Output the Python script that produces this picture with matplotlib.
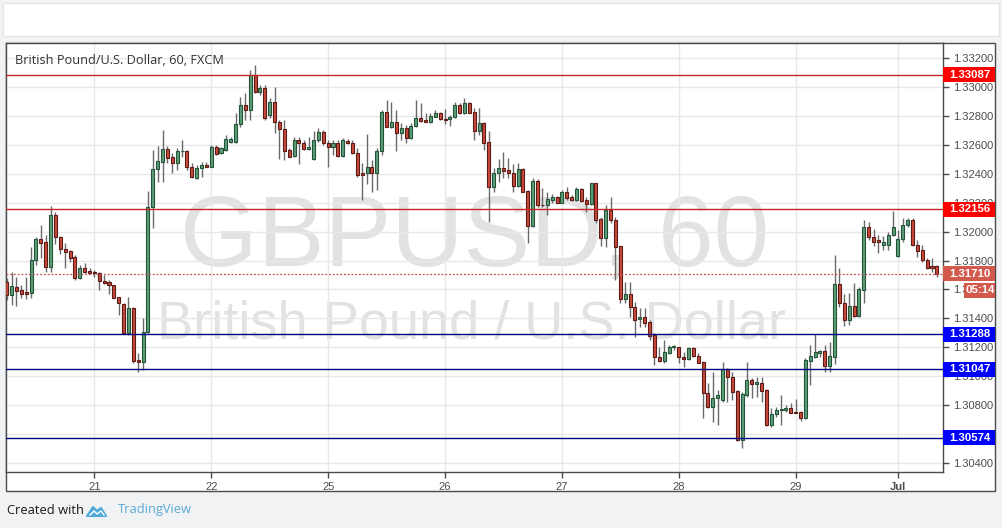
import numpy as np
import matplotlib
matplotlib.use("Agg")
import matplotlib.pyplot as plt
import matplotlib.transforms as mtransforms
from matplotlib.patches import Rectangle, Polygon

# hourly GBPUSD candles
opens = [1.31653, 1.31561, 1.31619, 1.31596, 1.31584, 1.31577, 1.31803, 1.31947, 1.31926, 1.31753,
         1.32115, 1.31965, 1.31880, 1.31866, 1.31822, 1.31681, 1.31746, 1.31727, 1.31722, 1.31711,
         1.31660, 1.31649, 1.31630, 1.31545, 1.31501, 1.31300, 1.31471, 1.31111, 1.31099, 1.31303,
         1.32168, 1.32434, 1.32484, 1.32572, 1.32519, 1.32477, 1.32555, 1.32560, 1.32445, 1.32369,
         1.32438, 1.32461, 1.32450, 1.32584, 1.32542, 1.32565, 1.32623, 1.32623, 1.32745, 1.32877,
         1.32842, 1.33084, 1.32965, 1.32992, 1.32807, 1.32895, 1.32757, 1.32710, 1.32565, 1.32526,
         1.32634, 1.32616, 1.32570, 1.32501, 1.32634, 1.32692, 1.32616, 1.32588, 1.32616, 1.32526,
         1.32630, 1.32612, 1.32542, 1.32404, 1.32404, 1.32445, 1.32404, 1.32558, 1.32830, 1.32726,
         1.32757, 1.32685, 1.32715, 1.32646, 1.32731, 1.32785, 1.32773, 1.32761, 1.32796, 1.32823,
         1.32780, 1.32778, 1.32792, 1.32877, 1.32819, 1.32888, 1.32826, 1.32699, 1.32754, 1.32618,
         1.32311, 1.32404, 1.32438, 1.32427, 1.32404, 1.32316, 1.32434, 1.32281, 1.32039, 1.32353,
         1.32184, 1.32184, 1.32219, 1.32242, 1.32200, 1.32276, 1.32238, 1.32219, 1.32295, 1.32219,
         1.32189, 1.32335, 1.32085, 1.31954, 1.32150, 1.32080, 1.31900, 1.31531, 1.31568, 1.31480,
         1.31395, 1.31411, 1.31372, 1.31284, 1.31130, 1.31106, 1.31162, 1.31201, 1.31199, 1.31134,
         1.31116, 1.31192, 1.31139, 1.31099, 1.30880, 1.30784, 1.30846, 1.30834, 1.31047, 1.30995,
         1.30898, 1.30557, 1.30869, 1.30973, 1.30943, 1.30950, 1.30903, 1.30661, 1.30737, 1.30765,
         1.30765, 1.30781, 1.30753, 1.30751, 1.30707, 1.31106, 1.31134, 1.31162, 1.31173, 1.31070,
         1.31134, 1.31636, 1.31508, 1.31388, 1.31485, 1.31416, 1.31596, 1.32030, 1.31961, 1.31942,
         1.31907, 1.31907, 1.31977, 1.31831, 1.31947, 1.32046, 1.32080, 1.31907, 1.31873, 1.31803,
         1.31762, 1.31762]
highs = [1.31679, 1.31722, 1.31688, 1.31630, 1.31688, 1.31896, 1.31965, 1.32046, 1.31977, 1.32177,
         1.32138, 1.31968, 1.31923, 1.31873, 1.31838, 1.31769, 1.31781, 1.31746, 1.31734, 1.31722,
         1.31700, 1.31665, 1.31632, 1.31547, 1.31504, 1.31549, 1.31480, 1.31157, 1.31400, 1.32281,
         1.32565, 1.32593, 1.32704, 1.32593, 1.32542, 1.32577, 1.32634, 1.32565, 1.32473, 1.32461,
         1.32484, 1.32484, 1.32600, 1.32600, 1.32588, 1.32669, 1.32657, 1.32819, 1.32934, 1.32958,
         1.33119, 1.33154, 1.33015, 1.33015, 1.32923, 1.33003, 1.32773, 1.32773, 1.32577, 1.32657,
         1.32657, 1.32634, 1.32657, 1.32697, 1.32715, 1.32704, 1.32634, 1.32634, 1.32634, 1.32646,
         1.32641, 1.32634, 1.32577, 1.32475, 1.32676, 1.32496, 1.32579, 1.32842, 1.32908, 1.32895,
         1.32842, 1.32750, 1.32738, 1.32750, 1.32911, 1.32888, 1.32819, 1.32819, 1.32842, 1.32830,
         1.32849, 1.32807, 1.32900, 1.32888, 1.32923, 1.32895, 1.32854, 1.32854, 1.32761, 1.32699,
         1.32438, 1.32503, 1.32553, 1.32508, 1.32468, 1.32477, 1.32438, 1.32288, 1.32369, 1.32362,
         1.32300, 1.32276, 1.32260, 1.32247, 1.32288, 1.32311, 1.32254, 1.32311, 1.32300, 1.32238,
         1.32339, 1.32339, 1.32103, 1.32184, 1.32242, 1.32101, 1.31903, 1.31653, 1.31653, 1.31515,
         1.31469, 1.31469, 1.31388, 1.31296, 1.31203, 1.31250, 1.31215, 1.31215, 1.31203, 1.31168,
         1.31203, 1.31199, 1.31157, 1.31106, 1.30950, 1.31030, 1.30903, 1.31095, 1.31054, 1.31030,
         1.30903, 1.30892, 1.31099, 1.30984, 1.30991, 1.30991, 1.30908, 1.30777, 1.30784, 1.30869,
         1.30800, 1.30811, 1.30841, 1.30760, 1.31123, 1.31215, 1.31289, 1.31180, 1.31215, 1.31238,
         1.31838, 1.31746, 1.31565, 1.31573, 1.31646, 1.31619, 1.32080, 1.32069, 1.32016, 1.31977,
         1.31970, 1.31999, 1.32145, 1.32011, 1.32092, 1.32092, 1.32094, 1.31942, 1.31907, 1.31815,
         1.31815, 1.31769]
lows = [1.31527, 1.31492, 1.31485, 1.31538, 1.31533, 1.31538, 1.31769, 1.31815, 1.31722, 1.31722,
        1.31914, 1.31845, 1.31746, 1.31792, 1.31665, 1.31672, 1.31711, 1.31704, 1.31688, 1.31596,
        1.31637, 1.31566, 1.31538, 1.31423, 1.31296, 1.31284, 1.31092, 1.31030, 1.31042, 1.31296,
        1.32023, 1.32346, 1.32346, 1.32473, 1.32404, 1.32427, 1.32519, 1.32427, 1.32369, 1.32362,
        1.32380, 1.32445, 1.32445, 1.32530, 1.32537, 1.32560, 1.32612, 1.32616, 1.32726, 1.32773,
        1.32773, 1.32958, 1.32946, 1.32773, 1.32785, 1.32681, 1.32501, 1.32496, 1.32515, 1.32519,
        1.32466, 1.32565, 1.32565, 1.32496, 1.32623, 1.32600, 1.32450, 1.32530, 1.32519, 1.32519,
        1.32607, 1.32537, 1.32380, 1.32219, 1.32330, 1.32274, 1.32285, 1.32530, 1.32724, 1.32715,
        1.32560, 1.32634, 1.32616, 1.32639, 1.32722, 1.32761, 1.32757, 1.32750, 1.32792, 1.32773,
        1.32745, 1.32733, 1.32785, 1.32814, 1.32814, 1.32819, 1.32634, 1.32669, 1.32565, 1.32069,
        1.32276, 1.32346, 1.32369, 1.32369, 1.32276, 1.32311, 1.32274, 1.31919, 1.32034, 1.32173,
        1.32173, 1.32115, 1.32196, 1.32196, 1.32196, 1.32219, 1.32214, 1.32214, 1.32207, 1.32138,
        1.32184, 1.32060, 1.31900, 1.31891, 1.32060, 1.31665, 1.31504, 1.31504, 1.31411, 1.31272,
        1.31342, 1.31342, 1.31250, 1.31076, 1.31099, 1.31088, 1.31153, 1.31180, 1.31088, 1.31061,
        1.31111, 1.31134, 1.31088, 1.30707, 1.30777, 1.30684, 1.30661, 1.30822, 1.30822, 1.30834,
        1.30552, 1.30500, 1.30857, 1.30846, 1.30857, 1.30822, 1.30654, 1.30649, 1.30718, 1.30661,
        1.30753, 1.30742, 1.30742, 1.30691, 1.30700, 1.30938, 1.31123, 1.31134, 1.31030, 1.31030,
        1.31083, 1.31478, 1.31346, 1.31353, 1.31411, 1.31411, 1.31508, 1.31942, 1.31900, 1.31850,
        1.31873, 1.31873, 1.31970, 1.31826, 1.31930, 1.32034, 1.31900, 1.31826, 1.31792, 1.31741,
        1.31722, 1.31684]
closes = [1.31561, 1.31623, 1.31591, 1.31566, 1.31566, 1.31803, 1.31947, 1.31923, 1.31757, 1.32115,
          1.31961, 1.31878, 1.31861, 1.31819, 1.31677, 1.31746, 1.31722, 1.31716, 1.31711, 1.31658,
          1.31646, 1.31628, 1.31542, 1.31508, 1.31300, 1.31471, 1.31104, 1.31099, 1.31303, 1.32168,
          1.32434, 1.32489, 1.32572, 1.32512, 1.32477, 1.32560, 1.32560, 1.32445, 1.32376, 1.32443,
          1.32461, 1.32450, 1.32584, 1.32537, 1.32577, 1.32639, 1.32641, 1.32745, 1.32877, 1.32842,
          1.33084, 1.32965, 1.32992, 1.32785, 1.32895, 1.32757, 1.32710, 1.32560, 1.32519, 1.32634,
          1.32612, 1.32570, 1.32584, 1.32634, 1.32692, 1.32612, 1.32588, 1.32616, 1.32526, 1.32634,
          1.32612, 1.32542, 1.32392, 1.32394, 1.32445, 1.32404, 1.32560, 1.32830, 1.32726, 1.32757,
          1.32685, 1.32715, 1.32650, 1.32731, 1.32785, 1.32768, 1.32761, 1.32800, 1.32823, 1.32778,
          1.32773, 1.32796, 1.32877, 1.32819, 1.32888, 1.32823, 1.32699, 1.32754, 1.32616, 1.32311,
          1.32404, 1.32438, 1.32422, 1.32404, 1.32316, 1.32434, 1.32276, 1.32041, 1.32353, 1.32184,
          1.32182, 1.32224, 1.32242, 1.32200, 1.32276, 1.32231, 1.32219, 1.32295, 1.32214, 1.32189,
          1.32335, 1.32080, 1.31954, 1.32150, 1.32078, 1.31896, 1.31531, 1.31568, 1.31476, 1.31388,
          1.31411, 1.31369, 1.31279, 1.31130, 1.31106, 1.31168, 1.31203, 1.31205, 1.31130, 1.31116,
          1.31192, 1.31139, 1.31092, 1.30880, 1.30784, 1.30846, 1.30869, 1.31047, 1.30991, 1.30892,
          1.30557, 1.30876, 1.30973, 1.30945, 1.30961, 1.30898, 1.30661, 1.30737, 1.30765, 1.30772,
          1.30781, 1.30746, 1.30746, 1.30707, 1.31111, 1.31141, 1.31168, 1.31173, 1.31072, 1.31139,
          1.31636, 1.31508, 1.31388, 1.31485, 1.31416, 1.31601, 1.32030, 1.31961, 1.31930, 1.31926,
          1.31930, 1.31977, 1.32030, 1.31947, 1.32046, 1.32080, 1.31907, 1.31868, 1.31803, 1.31750,
          1.31750, 1.31710]

day_labels = ["21", "22", "25", "26", "27", "28", "29", "Jul"]
day_bars = [18, 42, 66, 90, 114, 138, 162, 183]

resistance = [1.33087, 1.32156]
support = [1.31288, 1.31047, 1.30574]
last_price = 1.31710
countdown = "05:14"
title = "British Pound/U.S. Dollar, 60, FXCM"

W, H = 1002, 528
fig = plt.figure(figsize=(W / 100, H / 100), dpi=100, facecolor="#f1f2f4")

def fx(x):
    return x / W

def fy(y):
    return 1 - y / H

# page decorations (behind the axes)
fig.patches.append(Rectangle((fx(3), fy(36)), fx(996), 33 / H, transform=fig.transFigure,
                             facecolor="white", edgecolor="#e4e6e9", lw=1, zorder=-2))
fig.patches.append(Rectangle((fx(6), fy(491)), fx(989), 448 / H, transform=fig.transFigure,
                             facecolor="white", edgecolor="#4a4a4a", lw=1, zorder=-2))

ax = fig.add_axes([fx(6), fy(472), fx(937), 429 / H])
ax.set_facecolor("white")

n = len(opens)
idx = np.arange(n)
o = np.array(opens)
c = np.array(closes)
hi = np.array(highs)
lo = np.array(lows)
up = c >= o

up_col, up_edge = "#5f9d77", "#225437"
dn_col, dn_edge = "#c94a3e", "#5b1a13"
wick_col = "#6a6a6c"

ax.vlines(idx, lo, hi, color=wick_col, lw=1, zorder=3)
body_bot = np.minimum(o, c)
body_h = np.maximum(np.abs(c - o), 0.000012)
ax.bar(idx[up], body_h[up], bottom=body_bot[up], width=0.62,
       color=up_col, edgecolor=up_edge, lw=0.8, zorder=4)
ax.bar(idx[~up], body_h[~up], bottom=body_bot[~up], width=0.62,
       color=dn_col, edgecolor=dn_edge, lw=0.8, zorder=4)

ymin, ymax = 1.30336, 1.33306
ax.set_xlim(-0.15, 192.26)
ax.set_ylim(ymin, ymax)

# watermark
ax.text(0.5005, 0.541, "GBPUSD, 60", transform=ax.transAxes, ha="center", va="center",
        fontsize=72, color="#e2e2e2", family="Liberation Sans", zorder=0)
ax.text(0.497, 0.343, "British Pound / U.S. Dollar", transform=ax.transAxes, ha="center",
        va="center", fontsize=39, color="#e2e2e2", family="Liberation Sans", zorder=0)

# level lines
for lvl in resistance:
    ax.axhline(lvl, color="#c62828", lw=1, zorder=5)
for lvl in support:
    ax.axhline(lvl, color="#000080", lw=1, zorder=5)
ax.axhline(last_price, color="#c0504d", lw=0.9, ls=(0, (1.5, 1.5)), zorder=5)

# axes styling
yt = np.arange(1.304, 1.3321, 0.002)
ax.set_yticks(yt)
ax.set_yticklabels(["{:.5f}".format(v) for v in yt])
ax.yaxis.tick_right()
ax.set_xticks(day_bars)
ax.set_xticklabels(day_labels)
ax.get_xticklabels()[-1].set_fontweight("bold")
ax.tick_params(axis="both", colors="#4a4a4a", labelcolor="#4d4d4d", labelsize=8,
               length=4, width=1, direction="out")
ax.tick_params(axis="y", pad=3)
ax.tick_params(axis="x", pad=3)
for lab in ax.get_yticklabels() + ax.get_xticklabels():
    lab.set_family("Liberation Sans")
ax.grid(True, color="#e8e8e8", lw=1)
ax.set_axisbelow(True)
for sp in ax.spines.values():
    sp.set_color("#4a4a4a")
    sp.set_linewidth(1)

# price scale labels
box_h = 15 / 429 * (ymax - ymin)
trans = mtransforms.blended_transform_factory(fig.transFigure, ax.transData)

def price_box(price, text, color, x0=943, x1=995, dy=0.0):
    ax.add_patch(Rectangle((fx(x0), price - box_h / 2 + dy), fx(x1 - x0), box_h,
                           transform=trans, facecolor=color, edgecolor="none",
                           clip_on=False, zorder=10))
    ax.text(fx((x0 + x1) / 2 + 1), price + dy, text, transform=trans, ha="center",
            va="center", color="white", fontsize=8.2, fontweight="bold",
            family="Liberation Sans", clip_on=False, zorder=11)

for lvl in resistance:
    price_box(lvl, "{:.5f}".format(lvl), "#ff0000")
for lvl in support:
    price_box(lvl, "{:.5f}".format(lvl), "#0000ff")
price_box(last_price, "{:.5f}".format(last_price), "#d4594d")
price_box(last_price, countdown, "#d4594d", x0=964, x1=995, dy=-box_h * 1.13)

fig.text(fx(15), fy(61), title, ha="left", va="center", fontsize=9.2,
         color="#333333", family="Open Sans")

# footer
fig.text(fx(7), fy(510), "Created with", ha="left", va="center", fontsize=9.3,
         color="#1a1a1a", family="Open Sans")
fig.text(fx(118), fy(510), "TradingView", ha="left", va="center", fontsize=9.3,
         color="#5aa9d6", family="Open Sans")
logo = [(87, 516), (93, 507), (97, 511), (101, 508), (106, 516)]
fig.patches.append(Polygon([(fx(a), fy(b)) for a, b in logo], closed=True,
                           transform=fig.transFigure, facecolor="#4fa9d9",
                           edgecolor="#4fa9d9", lw=1.5, joinstyle="round", zorder=3))
zig = [(90, 515), (94, 511), (97, 514), (101, 511), (104, 515)]
fig.lines.append(plt.Line2D([fx(a) for a, b in zig], [fy(b) for a, b in zig],
                            transform=fig.transFigure, color="white", lw=1.0, zorder=4))

fig.savefig("out.png", dpi=100, facecolor=fig.get_facecolor())
